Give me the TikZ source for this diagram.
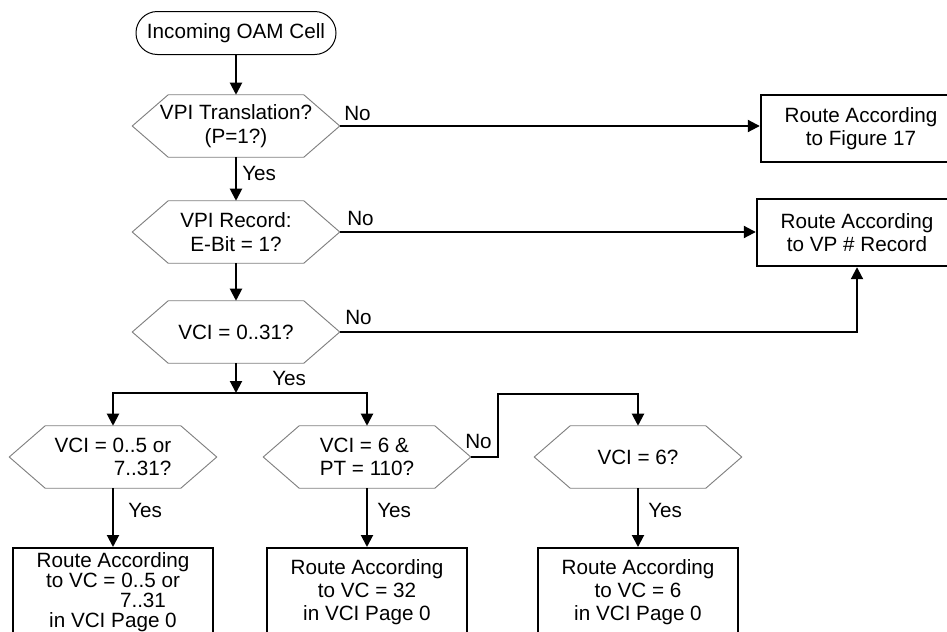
\documentclass[tikz,border=0pt]{standalone}
\usepackage{fontspec}
\setmainfont{Liberation Sans}
\usetikzlibrary{arrows.meta}
\begin{document}
\begin{tikzpicture}[x=0.75pt,y=-0.75pt,
  every node/.style={font=\fontsize{15.5}{17.5}\selectfont, inner sep=0pt},
  flow/.style={line width=1.5pt, -{Triangle[width=9pt,length=9pt]}},
  hexbox/.style={minimum width=155.25pt, minimum height=46.5pt, align=center},
  hexline/.style={draw=black!50, line width=0.7pt},
  routebox/.style={draw, line width=1.8pt, minimum width=150pt, minimum height=50.25pt, align=center},
  lowbox/.style={routebox, minimum height=66pt, anchor=north},
  terminal/.style={draw, line width=0.75pt, rounded corners=16pt, minimum width=150pt, minimum height=32.25pt},
  lbl/.style={anchor=base west}
]
\useasboundingbox (0,0) rectangle (947,632);
\clip (0,0) rectangle (947,632);

% decision nodes (outlines drawn below as hexagons)
\node[terminal] (start) at (236,33) {Incoming OAM Cell};
\node[hexbox] (d1) at (236,126) {VPI Translation?\\(P=1?)};
\node[hexbox] (d2) at (236,232) {VPI Record:\\E-Bit = 1?};
\node[hexbox] (d3) at (236,332) {VCI = 0..31?};
\node[hexbox, align=right] (d4) at (113,457) {VCI = 0..5 or\\7..31?};
\node[hexbox, align=left] (d5) at (367,457) {VCI = 6 \&\\PT = 110?};
\node[hexbox] (d6) at (638,457) {VCI = 6?};

\foreach \n in {d1,d2,d3,d4,d5,d6}
  \draw[hexline] (\n.west) -- ([xshift=27pt]\n.north west) -- ([xshift=-27pt]\n.north east)
    -- (\n.east) -- ([xshift=-27pt]\n.south east) -- ([xshift=27pt]\n.south west) -- cycle;

% action boxes
\node[routebox] (b1) at (861,128.5) {Route According\\to Figure 17};
\node[routebox] (b2) at (857,232.5) {Route According\\to VP \# Record};
\node[lowbox, font=\fontsize{15.5}{15}\selectfont] (b4) at (113,547)
  {Route According\\to VC = 0..5 or\\\hspace*{45pt}7..31\\in VCI Page 0};
\node[lowbox] (b5) at (367,547) {Route According\\to VC = 32\\in VCI Page 0};
\node[lowbox] (b6) at (638,547) {Route According\\to VC = 6\\in VCI Page 0};

% connectors
\coordinate (split) at (236,393);
\coordinate (jog) at (498,394);
\draw[flow] (start.south) -- (d1.north);
\draw[flow] (d1.east) -- (d1.east -| b1.west);
\draw[flow] (d1.south) -- (d2.north);
\draw[flow] (d2.east) -- (d2.east -| b2.west);
\draw[flow] (d2.south) -- (d3.north);
\draw[flow] (d3.east) -| (b2.south);
\draw[flow] (d3.south) -- (split);
\draw[flow] (split) -| (d4.north);
\draw[flow] (split) -| (d5.north);
\draw[flow] (d4.south) -- (b4.north);
\draw[flow] (d5.south) -- (b5.north);
\draw[flow] (d5.east) -- (d5.east -| jog) -- (jog) -| (d6.north);
\draw[flow] (d6.south) -- (b6.north);

% branch labels
\node[lbl] (no1) at (344,120) {No};
\node[lbl] (yes1) at (242,180) {Yes};
\node[lbl] (no2) at (347,225) {No};
\node[lbl] (no3) at (345,324) {No};
\node[lbl] (yes3) at (272,385) {Yes};
\node[lbl] (yes4) at (128,517) {Yes};
\node[lbl] (yes5) at (377,517) {Yes};
\node[lbl] (no5) at (465,448) {No};
\node[lbl] (yes6) at (648,517) {Yes};
\end{tikzpicture}
\end{document}
